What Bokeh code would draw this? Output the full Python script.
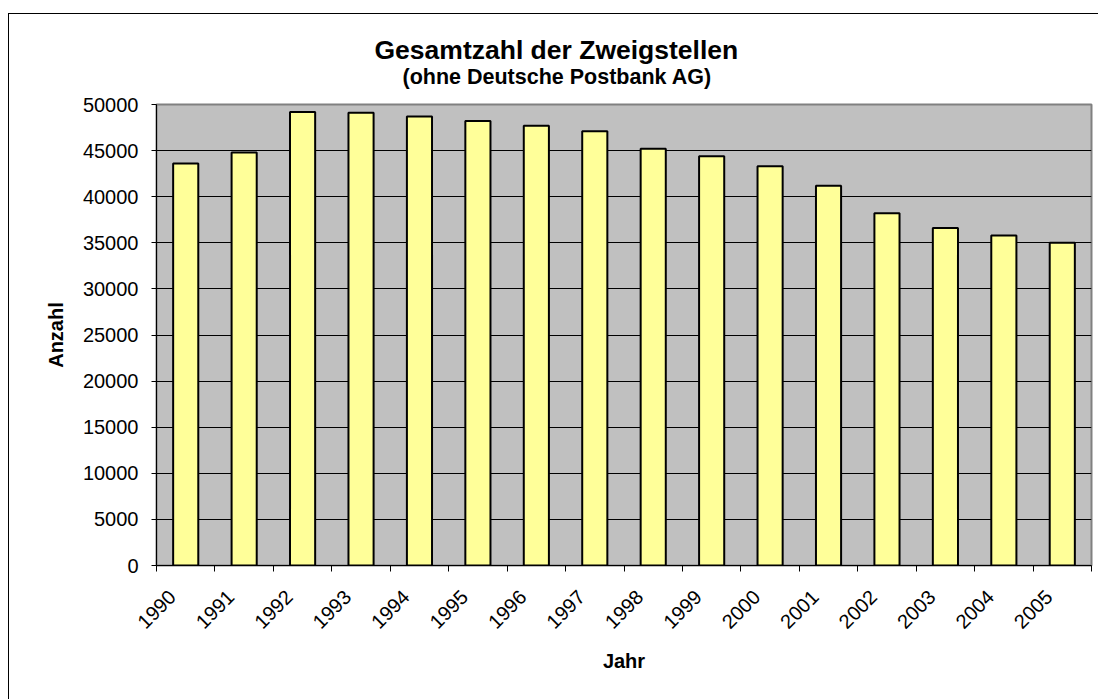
import math
from bokeh.plotting import figure
from bokeh.models import ColumnDataSource, FixedTicker, Range1d, Title
from bokeh.embed import file_html
from bokeh.resources import INLINE

years = ["1990", "1991", "1992", "1993", "1994", "1995", "1996", "1997",
         "1998", "1999", "2000", "2001", "2002", "2003", "2004", "2005"]
anzahl = [43600, 44800, 49200, 49100, 48700, 48200, 47700, 47100,
          45200, 44400, 43300, 41200, 38200, 36600, 35800, 35000]
y_ticks = [0, 5000, 10000, 15000, 20000, 25000, 30000, 35000, 40000, 45000, 50000]

title_text = "Gesamtzahl der Zweigstellen"
subtitle_text = "(ohne Deutsche Postbank AG)"

FONT = "Liberation Sans"

centers = [i + 0.5 for i in range(len(years))]
label_pos = [c - 0.23 for c in centers]
src = ColumnDataSource(dict(x=centers, top=anzahl))

p = figure(width=1090, height=686, output_backend="svg", toolbar_location=None,
           x_range=Range1d(0, len(years)), y_range=Range1d(0, 50000),
           min_border_left=147, min_border_right=8, min_border_top=90,
           min_border_bottom=135)
p.margin = (13, 0, 0, 8)
p.styles = {"border-top": "1px solid #000000", "border-left": "1px solid #000000",
            "box-sizing": "border-box"}

p.background_fill_color = "#C0C0C0"
p.border_fill_color = "white"
p.outline_line_color = "#808080"
p.outline_line_width = 2

p.vbar(x="x", top="top", bottom=0, width=0.43, source=src,
       fill_color="#FFFF99", line_color="black", line_width=2)

# grid
p.xgrid.grid_line_color = None
p.ygrid.grid_line_color = "black"
p.ygrid.grid_line_width = 1
p.ygrid.ticker = FixedTicker(ticks=y_ticks)

# y axis
p.yaxis.ticker = FixedTicker(ticks=y_ticks)
p.yaxis.axis_line_color = "black"
p.yaxis.axis_line_width = 1
p.yaxis.major_tick_in = 0
p.yaxis.major_tick_out = 5
p.yaxis.minor_tick_line_color = None
p.yaxis.major_label_text_font = FONT
p.yaxis.major_label_text_font_size = "20px"
p.yaxis.major_label_text_color = "black"
p.yaxis.major_label_standoff = 13
p.yaxis.axis_label = "Anzahl"
p.yaxis.axis_label_text_font = FONT
p.yaxis.axis_label_text_font_style = "bold"
p.yaxis.axis_label_text_font_size = "20px"
p.yaxis.axis_label_text_color = "black"
p.yaxis.axis_label_standoff = 13

# x axis: labels centred on bars, ticks between categories
p.xaxis.ticker = FixedTicker(ticks=label_pos, minor_ticks=list(range(len(years) + 1)))
p.xaxis.major_label_overrides = {c: y for c, y in zip(label_pos, years)}
p.xaxis.major_tick_line_color = None
p.xaxis.minor_tick_in = 0
p.xaxis.minor_tick_out = 6
p.xaxis.minor_tick_line_color = "black"
p.xaxis.axis_line_color = "black"
p.xaxis.major_label_orientation = math.pi / 4
p.xaxis.major_label_text_font = FONT
p.xaxis.major_label_text_font_size = "20px"
p.xaxis.major_label_text_color = "black"
p.xaxis.major_label_standoff = 22
p.xaxis.axis_label = "Jahr"
p.xaxis.axis_label_text_font = FONT
p.xaxis.axis_label_text_font_style = "bold"
p.xaxis.axis_label_text_font_size = "20px"
p.xaxis.axis_label_text_color = "black"
p.xaxis.axis_label_standoff = 12

# titles above the plot area (first added = closest to the frame)
p.add_layout(Title(text=" ", text_font_size="1px", standoff=11), "above")
p.add_layout(Title(text=subtitle_text, text_font=FONT, text_font_size="21.5px",
                   text_font_style="bold", text_color="black", align="left",
                   offset=246, vertical_align="top", standoff=0), "above")
p.add_layout(Title(text=title_text, text_font=FONT, text_font_size="26.5px",
                   text_font_style="bold", text_color="black", align="left",
                   offset=218, vertical_align="bottom", standoff=0), "above")

open("out.html", "w").write(file_html(p, INLINE))
